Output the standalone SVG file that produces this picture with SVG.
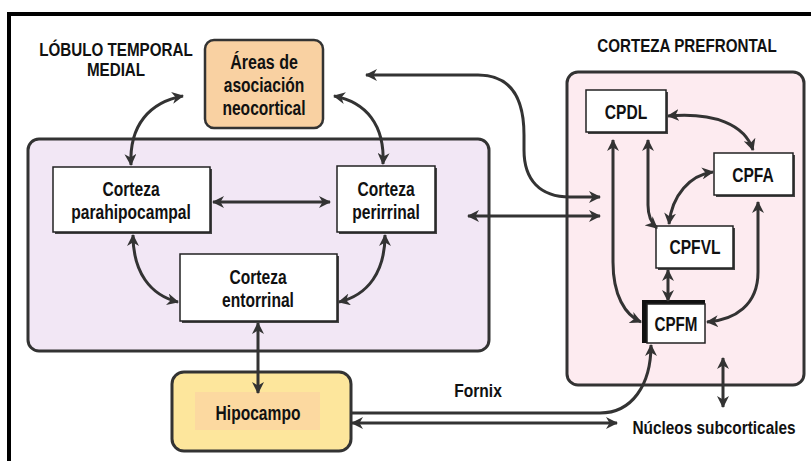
<svg xmlns="http://www.w3.org/2000/svg" width="811" height="461" viewBox="0 0 811 461">
<style>
.t{font-family:"Liberation Sans",Arial,sans-serif;font-weight:bold;font-size:20px;fill:#111;text-anchor:middle}
.h{font-size:19px}
.box{fill:#fff;stroke:#222;stroke-width:1.5}
.sh{fill:#444}
.c{fill:none;stroke:#333;stroke-width:3;marker-end:url(#ah)}
.d{marker-start:url(#ah)}
</style>
<defs>
<marker id="ah" viewBox="0 0 12 12" refX="11" refY="6" markerWidth="12" markerHeight="12" markerUnits="userSpaceOnUse" orient="auto-start-reverse">
<path d="M0,0 L12,6 L0,12 L3.5,6 z" fill="#333"/>
</marker>
</defs>
<rect width="811" height="461" fill="#fff"/>
<rect x="9" y="14" width="900" height="600" fill="none" stroke="#000" stroke-width="4"/>

<g id="mtl">
<rect x="28" y="139" width="461" height="212" rx="11" fill="#f2e7f5" stroke="#333" stroke-width="3"/>
<text class="t h" transform="translate(116,56) scale(0.8,1)">LÓBULO TEMPORAL</text>
<text class="t h" transform="translate(116,76) scale(0.8,1)">MEDIAL</text>
</g>
<g id="cpf">
<rect x="567" y="72" width="237" height="313" rx="11" fill="#fdebf0" stroke="#333" stroke-width="3"/>
<text class="t h" transform="translate(687,52) scale(0.8,1)">CORTEZA PREFRONTAL</text>
</g>

<g id="areas">
<rect x="205" y="40" width="118" height="88" rx="9" fill="#f9d1a2" stroke="#333" stroke-width="2.5"/>
<text class="t" transform="translate(264,69) scale(0.8,1)">Áreas de</text>
<text class="t" transform="translate(264,92) scale(0.78,1)">asociación</text>
<text class="t" transform="translate(264,115) scale(0.78,1)">neocortical</text>
</g>
<g id="parahipocampal">
<rect class="sh" x="55" y="169" width="157" height="65"/>
<rect class="box" x="53" y="167" width="157" height="65"/>
<text class="t" transform="translate(131,196) scale(0.78,1)">Corteza</text>
<text class="t" transform="translate(131,219) scale(0.78,1)">parahipocampal</text>
</g>
<g id="perirrinal">
<rect class="sh" x="339" y="168" width="98" height="66"/>
<rect class="box" x="337" y="166" width="98" height="66"/>
<text class="t" transform="translate(386,196) scale(0.78,1)">Corteza</text>
<text class="t" transform="translate(386,219) scale(0.78,1)">perirrinal</text>
</g>
<g id="entorrinal">
<rect class="sh" x="182" y="256" width="157" height="67"/>
<rect class="box" x="180" y="254" width="157" height="67"/>
<text class="t" transform="translate(258,284) scale(0.78,1)">Corteza</text>
<text class="t" transform="translate(258,307) scale(0.78,1)">entorrinal</text>
</g>
<g id="hipocampo">
<rect x="172" y="372" width="179" height="79" rx="12" fill="#fde69c" stroke="#333" stroke-width="3"/>
<rect x="195" y="392" width="125" height="38" fill="#fcd9a0"/>
<text class="t" transform="translate(258,420) scale(0.78,1)">Hipocampo</text>
</g>
<g id="cpdl">
<rect class="sh" x="588" y="92" width="80" height="42"/>
<rect class="box" x="586" y="90" width="80" height="42"/>
<text class="t" transform="translate(626,119) scale(0.78,1)">CPDL</text>
</g>
<g id="cpfa">
<rect class="sh" x="716" y="155" width="79" height="42"/>
<rect class="box" x="714" y="153" width="79" height="42"/>
<text class="t" transform="translate(753,182) scale(0.78,1)">CPFA</text>
</g>
<g id="cpfvl">
<rect class="sh" x="658" y="228" width="77" height="42"/>
<rect class="box" x="656" y="226" width="77" height="42"/>
<text class="t" transform="translate(695,254) scale(0.78,1)">CPFVL</text>
</g>
<g id="cpfm">
<rect x="642" y="300" width="63" height="43" fill="#111"/>
<rect class="box" x="647" y="304" width="58" height="39"/>
<text class="t" transform="translate(676,331) scale(0.76,1)">CPFM</text>
</g>
<g id="fornix">
<text class="t h" transform="translate(478,397) scale(0.82,1)">Fornix</text>
</g>
<g id="nucleos">
<text class="t h" transform="translate(714,434) scale(0.81,1)">Núcleos subcorticales</text>
</g>

<g id="connectors">
<path class="c d" d="M183,96 C150,102 129,125 131,165"/>
<path class="c d" d="M334,96 C366,102 385,125 383,164"/>
<path class="c d" d="M213,202 L330,202"/>
<path class="c d" d="M133,235 C133,272 150,295 178,302"/>
<path class="c d" d="M385,235 C385,272 368,295 339,302"/>
<path class="c d" d="M258,323 L258,393"/>
<path class="c d" d="M366,75 L478,75 C512,75 524,100 524,135 L524,150 C524,180 540,197 570,197 L600,197"/>
<path class="c d" d="M468,216 L600,216"/>
<path class="c d" d="M668,116 C715,112 745,125 753,150"/>
<path class="c d" d="M613,140 L613,262 C613,295 625,315 641,322"/>
<path class="c d" d="M648,140 L648,205 C648,215 650,222 657,228"/>
<path class="c d" d="M713,172 C690,175 672,195 669,224"/>
<path class="c d" d="M668,270 L668,301"/>
<path class="c d" d="M758,202 L758,272 C758,305 735,320 707,322"/>
<path class="c" d="M351,413 L600,413 C632,413 651,385 651,345"/>
<path class="c d" d="M352,423 L617,423"/>
<path class="c d" d="M723,358 L723,407"/>
</g>
</svg>
